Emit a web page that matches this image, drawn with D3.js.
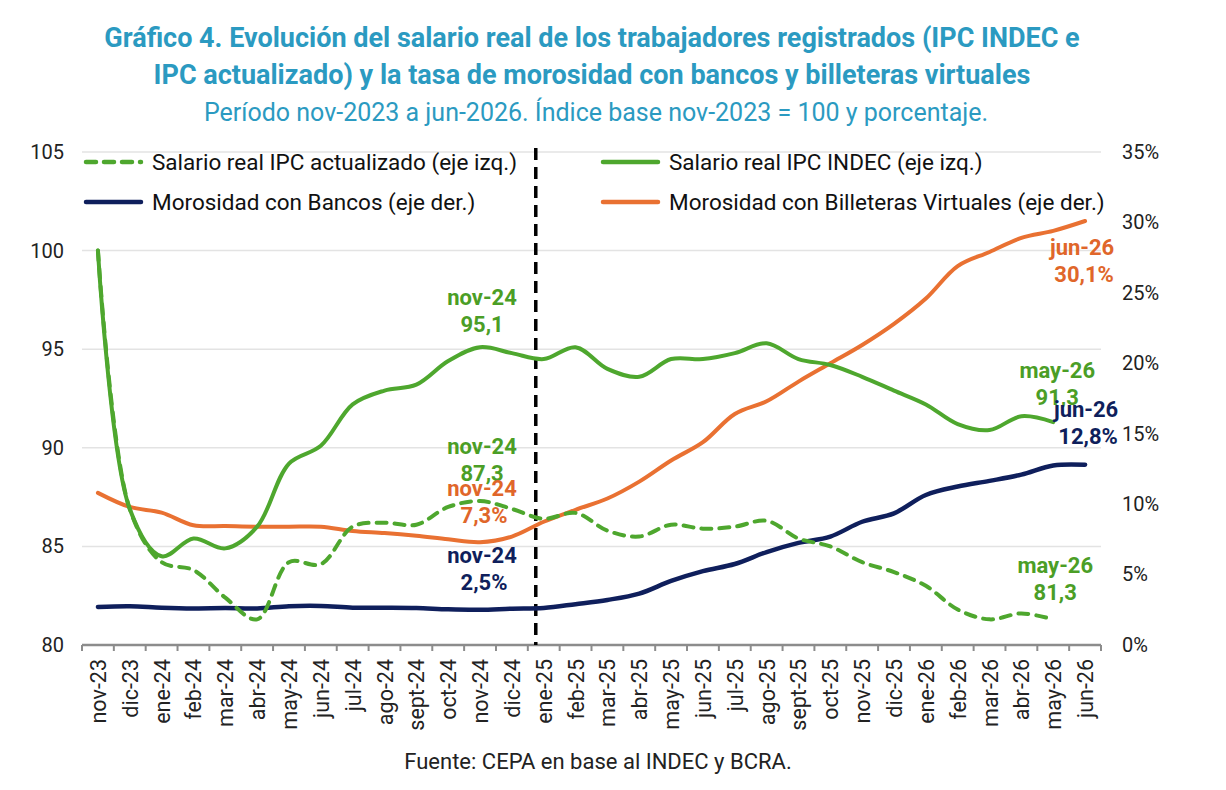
<!DOCTYPE html>
<html>
<head>
<meta charset="utf-8">
<script src="https://cdn.jsdelivr.net/npm/d3@7"></script>
<style>
  body { margin: 0; background: #fff; }
  svg text { font-family: Roboto, "Noto Sans", sans-serif; }
</style>
</head>
<body>
<div id="chart"></div>
<script>
// meses del eje x
const months = ["nov-23","dic-23","ene-24","feb-24","mar-24","abr-24","may-24","jun-24","jul-24","ago-24","sept-24","oct-24","nov-24","dic-24","ene-25","feb-25","mar-25","abr-25","may-25","jun-25","jul-25","ago-25","sept-25","oct-25","nov-25","dic-25","ene-26","feb-26","mar-26","abr-26","may-26","jun-26"];

// salario real (indice, eje izq.)
const salarioIndec = [100, 86.9, 84.5, 85.4, 84.9, 86.0, 89.2, 90.1, 92.2, 92.9, 93.2, 94.4, 95.1, 94.8, 94.5, 95.1, 94.0, 93.6, 94.5, 94.5, 94.8, 95.3, 94.5, 94.2, 93.6, 92.9, 92.2, 91.2, 90.9, 91.6, 91.3, null];
const salarioActualizado = [100, 86.9, 84.2, 83.8, 82.4, 81.3, 84.2, 84.1, 86.0, 86.2, 86.1, 87.0, 87.3, 86.9, 86.4, 86.7, 85.8, 85.5, 86.1, 85.9, 86.0, 86.3, 85.4, 85.0, 84.2, 83.7, 83.0, 81.8, 81.3, 81.6, 81.3, null];

// morosidad (% , eje der.)
const morosidadBancos = [2.7, 2.75, 2.65, 2.6, 2.62, 2.6, 2.75, 2.77, 2.65, 2.65, 2.63, 2.53, 2.5, 2.58, 2.63, 2.9, 3.2, 3.65, 4.55, 5.25, 5.75, 6.6, 7.25, 7.7, 8.75, 9.35, 10.65, 11.25, 11.65, 12.1, 12.75, 12.8];
const morosidadBilleteras = [10.8, 9.8, 9.4, 8.5, 8.45, 8.4, 8.4, 8.4, 8.1, 7.95, 7.75, 7.5, 7.3, 7.7, 8.75, 9.6, 10.4, 11.6, 13.1, 14.4, 16.4, 17.3, 18.7, 20.0, 21.3, 22.8, 24.6, 26.9, 27.9, 28.9, 29.4, 30.1];

const leftTicks = [80, 85, 90, 95, 100, 105];
const rightTicks = [0, 5, 10, 15, 20, 25, 30, 35];

const W = 1226, H = 790;
const green = "#4ea72e", orange = "#e97132", navy = "#0f1f5c", teal = "#2b9ac1";
const greenTxt = "#4b9e26", orangeTxt = "#e0662a";

const svg = d3.select("#chart").append("svg")
    .attr("width", W)
    .attr("height", H);

// titulos
const title = svg.append("g").attr("text-anchor", "middle").style("fill", teal);
title.append("text").attr("x", 592).attr("y", 47)
    .style("font-size", "27px").style("font-weight", "bold")
    .text("Gráfico 4. Evolución del salario real de los trabajadores registrados (IPC INDEC e");
title.append("text").attr("x", 592).attr("y", 84)
    .style("font-size", "27px").style("font-weight", "bold")
    .text("IPC actualizado) y la tasa de morosidad con bancos y billeteras virtuales");
title.append("text").attr("x", 596).attr("y", 121)
    .style("font-size", "25px")
    .text("Período nov-2023 a jun-2026. Índice base nov-2023 = 100 y porcentaje.");

// escalas
const x = d3.scaleBand().domain(months).range([82, 1101]);
const cx = m => x(m) + x.bandwidth() / 2;
const yL = d3.scaleLinear().domain([80, 105]).range([645, 152]);
const yR = d3.scaleLinear().domain([0, 35]).range([645, 152]);

// grilla
svg.append("g").selectAll("line")
    .data(leftTicks.slice(1))
    .enter().append("line")
    .attr("x1", 82).attr("x2", 1101)
    .attr("y1", d => yL(d)).attr("y2", d => yL(d))
    .style("stroke", "#e3e3e3").style("stroke-width", 1.5);

// eje izquierdo
const axL = svg.append("g")
    .attr("transform", "translate(82,0)")
    .call(d3.axisLeft(yL).tickValues(leftTicks).tickSize(0).tickPadding(18));
axL.select(".domain").remove();
axL.selectAll("text").style("font-size", "20px").style("fill", "#222").style("font-family", "Roboto");

// eje derecho
const axR = svg.append("g")
    .attr("transform", "translate(1101,0)")
    .call(d3.axisRight(yR).tickValues(rightTicks).tickSize(0).tickPadding(21).tickFormat(d => d + "%"));
axR.select(".domain").remove();
axR.selectAll("text").style("font-size", "20px").style("fill", "#222").style("font-family", "Roboto");

// eje x con marcas en los bordes de cada mes
svg.append("line")
    .attr("x1", 82).attr("x2", 1101).attr("y1", 645).attr("y2", 645)
    .style("stroke", "#8c8c8c").style("stroke-width", 2.5);
svg.append("g").selectAll("line")
    .data(d3.range(months.length + 1))
    .enter().append("line")
    .attr("x1", i => 82 + i * x.step()).attr("x2", i => 82 + i * x.step())
    .attr("y1", 645).attr("y2", 651)
    .style("stroke", "#8c8c8c").style("stroke-width", 2);

svg.append("g").selectAll("text")
    .data(months)
    .enter().append("text")
    .attr("transform", d => `translate(${cx(d) + 8},659) rotate(-90)`)
    .attr("text-anchor", "end")
    .style("font-size", "21.5px")
    .style("fill", "#222")
    .text(d => d);

// linea vertical punteada (inicio 2025)
const xv = x("ene-25") + x.step() * 0.25;
svg.append("line")
    .attr("x1", xv).attr("x2", xv).attr("y1", 148).attr("y2", 645)
    .style("stroke", "#000").style("stroke-width", 3.5)
    .style("stroke-dasharray", "12,7");

// series
const lineL = d3.line()
    .defined(d => d.v != null)
    .x(d => cx(d.m)).y(d => yL(d.v))
    .curve(d3.curveCatmullRom.alpha(0.5));
const lineR = d3.line()
    .defined(d => d.v != null)
    .x(d => cx(d.m)).y(d => yR(d.v))
    .curve(d3.curveCatmullRom.alpha(0.5));
const zip = arr => months.map((m, i) => ({ m: m, v: arr[i] }));

svg.append("path").attr("d", lineR(zip(morosidadBancos)))
    .style("fill", "none").style("stroke", navy).style("stroke-width", 4.5).style("stroke-linecap", "round");
svg.append("path").attr("d", lineR(zip(morosidadBilleteras)))
    .style("fill", "none").style("stroke", orange).style("stroke-width", 4).style("stroke-linecap", "round");
svg.append("path").attr("d", lineL(zip(salarioIndec)))
    .style("fill", "none").style("stroke", green).style("stroke-width", 4).style("stroke-linecap", "round");
svg.append("path").attr("d", lineL(zip(salarioActualizado)))
    .style("fill", "none").style("stroke", green).style("stroke-width", 4)
    .style("stroke-linecap", "round").style("stroke-dasharray", "10,8");

// leyenda
const legend = [
    { label: "Salario real IPC actualizado (eje izq.)", color: green, dash: "10,8", x: 86, y: 162 },
    { label: "Salario real IPC INDEC (eje izq.)", color: green, dash: null, x: 603, y: 162 },
    { label: "Morosidad con Bancos (eje der.)", color: navy, dash: null, x: 86, y: 202 },
    { label: "Morosidad con Billeteras Virtuales (eje der.)", color: orange, dash: null, x: 603, y: 202 }
];
const lg = svg.append("g").selectAll("g").data(legend).enter().append("g");
lg.append("line")
    .attr("x1", d => d.x).attr("x2", d => d.x + 55)
    .attr("y1", d => d.y).attr("y2", d => d.y)
    .style("stroke", d => d.color).style("stroke-width", 4.5)
    .style("stroke-linecap", "round")
    .style("stroke-dasharray", d => d.dash);
lg.append("text")
    .attr("x", d => d.x + 66).attr("y", d => d.y + 8)
    .style("font-size", "22.5px").style("fill", "#111")
    .text(d => d.label);

// etiquetas de datos
const fmt = v => String(v).replace(".", ",");
const notes = [
    { m: "nov-24", v: salarioIndec[12], pct: false, color: greenTxt, dx: 2, y: 297 },
    { m: "nov-24", v: salarioActualizado[12], pct: false, color: greenTxt, dx: 2, y: 446 },
    { m: "nov-24", v: morosidadBilleteras[12], pct: true, color: orangeTxt, dx: 2, y: 488 },
    { m: "nov-24", v: morosidadBancos[12], pct: true, color: navy, dx: 2, y: 555 },
    { m: "may-26", v: salarioIndec[30], pct: false, color: greenTxt, dx: 4, y: 370 },
    { m: "jun-26", v: morosidadBancos[31], pct: true, color: navy, dx: 1, y: 409 },
    { m: "may-26", v: salarioActualizado[30], pct: false, color: greenTxt, dx: 2, y: 565 },
    { m: "jun-26", v: morosidadBilleteras[31], pct: true, color: orangeTxt, dx: -3, y: 247 }
];
const nt = svg.append("g").selectAll("text").data(notes).enter().append("text")
    .attr("text-anchor", "middle")
    .style("font-size", "22px").style("font-weight", "bold")
    .style("fill", d => d.color);
nt.append("tspan")
    .attr("x", d => cx(d.m) + d.dx).attr("y", d => d.y + 8)
    .text(d => d.m);
nt.append("tspan")
    .attr("x", d => cx(d.m) + d.dx + (d.pct ? 2 : 0)).attr("y", d => d.y + 35)
    .text(d => fmt(d.v) + (d.pct ? "%" : ""));

// fuente
svg.append("text")
    .attr("x", 598).attr("y", 769)
    .attr("text-anchor", "middle")
    .style("font-size", "22px").style("fill", "#222")
    .text("Fuente: CEPA en base al INDEC y BCRA.");
</script>
</body>
</html>
